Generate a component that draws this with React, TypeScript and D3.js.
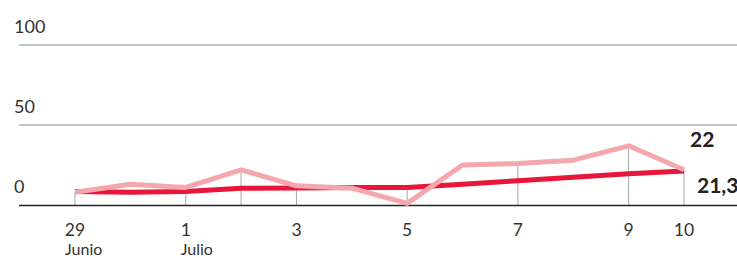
import React from "react";
import * as d3 from "d3";

const days = ["29", "30", "1", "2", "3", "4", "5", "6", "7", "8", "9", "10"];
const seriesPink = [8, 13, 11, 22, 12, 10.5, 1, 25, 26, 28, 37, 22];
const seriesRed = [8.5, 8, 8.5, 10.5, 10.6, 11, 11, 13, 15.2, 17.4, 19.6, 21.3];
const yTicks = [0, 50, 100];
const markerDays = ["29", "1", "2", "3", "5", "7", "9", "10"];
const labelDays = ["29", "1", "3", "5", "7", "9", "10"];
const monthLabels: Record<string, string> = { "29": "Junio", "1": "Julio" };
const endLabels = [{ text: "22", series: "pink" }, { text: "21,3", series: "red" }];

const W = 737;
const H = 258;
const FONT = "Lato, 'Open Sans', sans-serif";

export default function App() {
  const x = d3.scalePoint<string>().domain(days).range([75, 684]);
  const y = d3.scaleLinear().domain([0, 100]).range([205, 45]);
  const line = d3
    .line<number>()
    .x((_, i) => x(days[i]) as number)
    .y((d) => y(d));

  const lastX = x(days[days.length - 1]) as number;

  return (
    <svg
      width={W}
      height={H}
      style={{ position: "absolute", left: 0, top: 0, fontFamily: FONT }}
    >
      {yTicks.map((t) => (
        <g key={t}>
          {t !== 0 && (
            <line x1={19} x2={W} y1={y(t)} y2={y(t)} stroke="#8a8a8a" strokeWidth={1} />
          )}
          <text x={14} y={y(t) - 12} fontSize={18} fill="#333">
            {t}
          </text>
        </g>
      ))}
      {markerDays.map((d) => {
        const i = days.indexOf(d);
        const top = Math.min(y(seriesPink[i]), y(seriesRed[i]));
        return (
          <line
            key={d}
            x1={x(d)}
            x2={x(d)}
            y1={top}
            y2={205}
            stroke="#a8a8a8"
            strokeWidth={1}
          />
        );
      })}
      <line x1={19} x2={W} y1={205.5} y2={205.5} stroke="#222" strokeWidth={1.5} />
      <path d={line(seriesRed) || ""} fill="none" stroke="#e8163a" strokeWidth={5} strokeLinejoin="round" />
      <path d={line(seriesPink) || ""} fill="none" stroke="#f5a7ae" strokeWidth={5} strokeLinejoin="round" />
      {labelDays.map((d) => {
        const cx = x(d) as number;
        const half = d.length * 5;
        return (
          <g key={d}>
            <text x={cx} y={236} fontSize={17.5} fill="#333" textAnchor="middle">
              {d}
            </text>
            {monthLabels[d] && (
              <text x={cx - half} y={255} fontSize={16} fill="#333">
                {monthLabels[d]}
              </text>
            )}
          </g>
        );
      })}
      <text x={lastX + 6} y={147} fontSize={21} fontWeight={700} fill="#222">
        {endLabels[0].text}
      </text>
      <text x={lastX + 13} y={193} fontSize={21} fontWeight={700} fill="#222">
        {endLabels[1].text}
      </text>
    </svg>
  );
}
